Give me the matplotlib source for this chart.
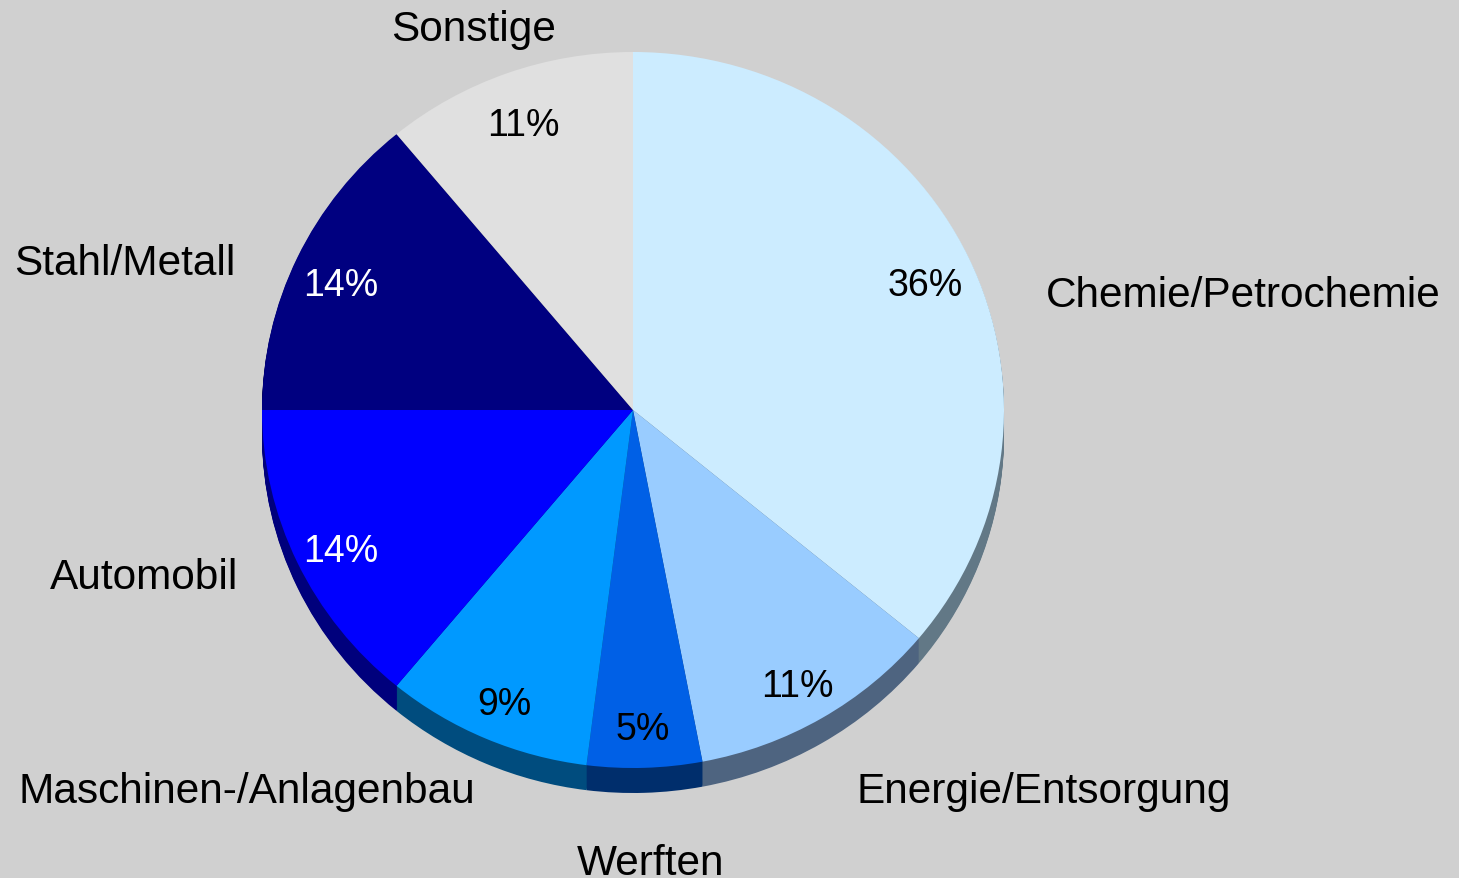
import numpy as np
import matplotlib.pyplot as plt

sectors = ["Chemie/Petrochemie", "Energie/Entsorgung", "Werften",
           "Maschinen-/Anlagenbau", "Automobil", "Stahl/Metall", "Sonstige"]
shares = [36, 11, 5, 9, 14, 14, 11]

top_colors = ["#CCECFF", "#99CCFF", "#0060E6", "#0099FF", "#0000FF", "#000080", "#E0E0E0"]
side_colors = ["#627886", "#4E6480", "#002E6C", "#004C7E", "#00007C", "#000040", "#707070"]
pct_colors = ["black", "black", "black", "black", "white", "white", "black"]

# label anchors in pixels (left edge, baseline)
label_pos = [(1046, 307), (857, 803), (577, 875), (19, 803), (50, 589), (14, 275), (391, 41)]

W, H = 1459, 879
cx, cy = 633, 411      # pie centre in pixels
rx, ry = 371, 358      # slightly squashed ellipse
depth = 25

plt.rcParams['font.family'] = ['Liberation Sans', 'DejaVu Sans']

fig = plt.figure(figsize=(W / 100, H / 100), dpi=100)
fig.patch.set_facecolor("#D0D0D0")
ax = fig.add_axes([0, 0, 1, 1])
ax.set_facecolor("#D0D0D0")

# side wall: stacked copies shifted down
for k in range(depth, 0, -1):
    ax.pie(shares, colors=side_colors, startangle=90, counterclock=False,
           radius=1, center=(0, -k / ry), frame=True)

wedges, texts, autotexts = ax.pie(
    shares, colors=top_colors, startangle=90, counterclock=False,
    radius=1, center=(0, 0), frame=True,
    autopct="%d%%", pctdistance=0.87,
    textprops={"fontsize": 27})
for t, c in zip(autotexts, pct_colors):
    t.set_color(c)
    x, y = t.get_position()
    t.set_position((x, y - 8 / ry))

ax.set_aspect("auto")
ax.set_xlim(-cx / rx, (W - cx) / rx)
ax.set_ylim(-(H - cy) / ry, cy / ry)
ax.axis("off")

for name, (px, py) in zip(sectors, label_pos):
    ax.text((px - cx) / rx, (cy - py) / ry, name, fontsize=30.5,
            ha="left", va="baseline", color="black")

fig.savefig("out.png", dpi=100, facecolor=fig.get_facecolor())
